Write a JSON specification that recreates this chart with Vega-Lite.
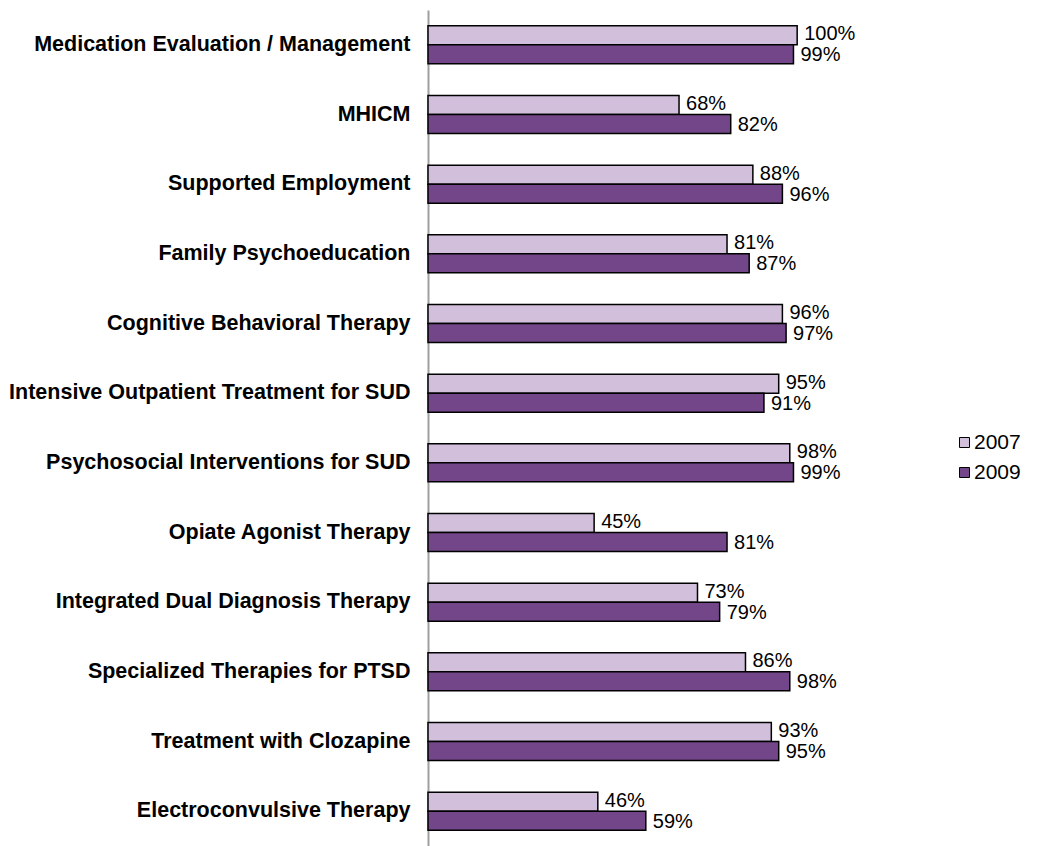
{
  "$schema": "https://vega.github.io/schema/vega-lite/v6.json",
  "autosize": "none",
  "width": 443,
  "height": 836,
  "padding": {"left": 428, "top": 10, "right": 170, "bottom": 0},
  "background": "white",
  "config": {"view": {"stroke": null}, "font": "Liberation Sans"},
  "data": {"values": [
    {"category": "Medication Evaluation / Management", "year": "2007", "value": 1.00},
    {"category": "Medication Evaluation / Management", "year": "2009", "value": 0.99},
    {"category": "MHICM", "year": "2007", "value": 0.68},
    {"category": "MHICM", "year": "2009", "value": 0.82},
    {"category": "Supported Employment", "year": "2007", "value": 0.88},
    {"category": "Supported Employment", "year": "2009", "value": 0.96},
    {"category": "Family Psychoeducation", "year": "2007", "value": 0.81},
    {"category": "Family Psychoeducation", "year": "2009", "value": 0.87},
    {"category": "Cognitive Behavioral Therapy", "year": "2007", "value": 0.96},
    {"category": "Cognitive Behavioral Therapy", "year": "2009", "value": 0.97},
    {"category": "Intensive Outpatient Treatment for SUD", "year": "2007", "value": 0.95},
    {"category": "Intensive Outpatient Treatment for SUD", "year": "2009", "value": 0.91},
    {"category": "Psychosocial Interventions for SUD", "year": "2007", "value": 0.98},
    {"category": "Psychosocial Interventions for SUD", "year": "2009", "value": 0.99},
    {"category": "Opiate Agonist Therapy", "year": "2007", "value": 0.45},
    {"category": "Opiate Agonist Therapy", "year": "2009", "value": 0.81},
    {"category": "Integrated Dual Diagnosis Therapy", "year": "2007", "value": 0.73},
    {"category": "Integrated Dual Diagnosis Therapy", "year": "2009", "value": 0.79},
    {"category": "Specialized Therapies for PTSD", "year": "2007", "value": 0.86},
    {"category": "Specialized Therapies for PTSD", "year": "2009", "value": 0.98},
    {"category": "Treatment with Clozapine", "year": "2007", "value": 0.93},
    {"category": "Treatment with Clozapine", "year": "2009", "value": 0.95},
    {"category": "Electroconvulsive Therapy", "year": "2007", "value": 0.46},
    {"category": "Electroconvulsive Therapy", "year": "2009", "value": 0.59}
  ]},
  "encoding": {
    "y": {
      "field": "category", "type": "nominal", "sort": null, "title": null,
      "scale": {"paddingInner": 0.455, "paddingOuter": 0.2275},
      "axis": {
        "domainColor": "#a0a0a0", "domainWidth": 2, "ticks": false,
        "labelFont": "Liberation Sans", "labelFontWeight": "bold", "labelFontSize": 21.5,
        "labelColor": "#000000", "labelPadding": 18, "labelLimit": 500
      }
    },
    "yOffset": {"field": "year", "type": "nominal", "sort": ["2007", "2009"]},
    "x": {
      "field": "value", "type": "quantitative", "title": null,
      "scale": {"domain": [0, 1.2], "nice": false},
      "axis": null
    }
  },
  "layer": [
    {
      "mark": {"type": "bar", "stroke": "#000000", "strokeWidth": 1.5},
      "encoding": {
        "color": {
          "field": "year", "type": "nominal", "title": null,
          "scale": {"domain": ["2007", "2009"], "range": ["#d2bfdc", "#724689"]},
          "legend": {
            "orient": "none", "legendX": 526, "legendY": 422,
            "symbolType": "square", "symbolSize": 100, "symbolStrokeColor": "#000000",
            "symbolStrokeWidth": 1, "labelFontSize": 21, "labelFont": "Liberation Sans",
            "labelColor": "#000000", "rowPadding": 8, "labelOffset": -1
          }
        }
      }
    },
    {
      "transform": [{"filter": "datum.year == '2007'"}],
      "mark": {"type": "text", "align": "left", "baseline": "middle", "dx": 7, "dy": -1, "fontSize": 20, "font": "Liberation Sans", "color": "#000000"},
      "encoding": {
        "text": {"field": "value", "type": "quantitative", "format": ".0%"}
      }
    },
    {
      "transform": [{"filter": "datum.year == '2009'"}],
      "mark": {"type": "text", "align": "left", "baseline": "middle", "dx": 7, "dy": 1, "fontSize": 20, "font": "Liberation Sans", "color": "#000000"},
      "encoding": {
        "text": {"field": "value", "type": "quantitative", "format": ".0%"}
      }
    }
  ]
}
